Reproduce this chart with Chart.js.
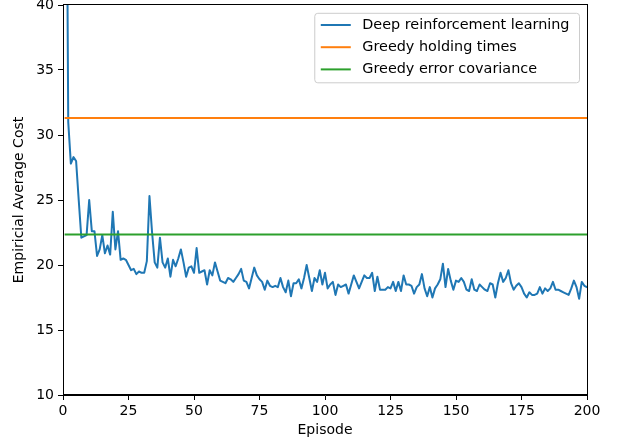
<!DOCTYPE html>
<html>
<head>
<meta charset="utf-8">
<script src="https://cdn.jsdelivr.net/npm/chart.js@4/dist/chart.umd.min.js"></script>
<style>
  html, body { margin: 0; padding: 0; background: #fff; }
</style>
</head>
<body>
<canvas id="chart" width="619" height="444"></canvas>
<script>
// values, episode 1..200
var drlCost = [
  65.0, 31.0, 27.8, 28.3, 28.0, 25.0, 22.1, 22.2, 22.3, 25.0,
  22.6, 22.6, 20.7, 21.2, 22.3, 20.9, 21.5, 20.8, 24.1, 21.2,
  22.6, 20.4, 20.5, 20.4, 20.0, 19.6, 19.7, 19.3, 19.5, 19.4,
  19.4, 20.3, 25.3, 22.5, 20.2, 19.8, 22.1, 20.2, 19.8, 20.5,
  19.1, 20.4, 19.9, 20.5, 21.2, 20.2, 19.1, 19.8, 19.9, 19.4,
  21.3, 19.4, 19.5, 19.6, 18.5, 19.6, 19.2, 20.2, 19.5, 18.8,
  18.7, 18.6, 19.0, 18.9, 18.7, 19.0, 19.3, 19.7, 18.8, 18.7,
  18.2, 19.0, 19.8, 19.2, 18.9, 18.7, 18.1, 18.8, 18.4, 18.3,
  18.4, 18.3, 19.0, 18.3, 17.9, 18.8, 17.6, 18.6, 18.6, 18.9,
  18.2, 19.0, 20.0, 19.0, 18.0, 19.0, 18.7, 19.6, 18.5, 19.4,
  18.2, 18.5, 18.7, 17.7, 18.5, 18.3, 18.4, 18.5, 17.8, 18.5,
  19.2, 18.7, 18.2, 18.7, 19.2, 19.0, 19.0, 19.4, 18.0, 19.1,
  18.1, 18.1, 18.1, 18.3, 18.2, 18.7, 18.0, 18.7, 18.0, 19.2,
  18.5, 18.5, 18.4, 17.8, 18.3, 18.5, 19.3, 18.2, 17.6, 18.3,
  17.5, 18.2, 18.5, 18.9, 20.1, 18.3, 19.7, 18.8, 18.1, 18.8,
  18.7, 19.0, 18.7, 18.1, 18.0, 18.9, 18.1, 18.0, 18.5, 18.3,
  18.1, 18.0, 18.6, 18.5, 17.5, 18.6, 19.4, 18.7, 19.0, 19.6,
  18.6, 18.1, 18.4, 18.6, 18.3, 17.8, 17.5, 17.9, 17.7, 17.7,
  17.8, 18.3, 17.8, 18.2, 18.0, 18.2, 18.7, 18.1, 18.1, 18.0,
  17.9, 17.8, 17.7, 18.2, 18.8, 18.3, 17.4, 18.7, 18.4, 18.3
];
var greedyHolding = 31.3;
var greedyCovariance = 22.35;
var firstEpisode = 1;
var lastEpisode = 200;
var seriesNames = ["Deep reinforcement learning", "Greedy holding times", "Greedy error covariance"];
var seriesColors = ["#1f77b4", "#ff7f0e", "#2ca02c"];

var font = { family: "DejaVu Sans", size: 14 };
var legendFontSize = 14.4;

var drlPoints = drlCost.map(function (v, i) {
  return { x: firstEpisode + i, y: v };
});
function flatLine(v) {
  return [{ x: firstEpisode, y: v }, { x: lastEpisode, y: v }];
}

// top/right spines like matplotlib
const framePlugin = {
  id: "frame",
  afterDatasetsDraw(chart) {
    const a = chart.chartArea;
    const c = chart.ctx;
    c.save();
    c.strokeStyle = "#000";
    c.lineWidth = 1;
    c.strokeRect(Math.round(a.left) + 0.5, Math.round(a.top) - 0.5,
      Math.round(a.right - a.left), Math.round(a.bottom - a.top));
    c.restore();
  },
};

// legend drawn inside the axes, upper right
const insideLegend = {
  id: "insideLegend",
  afterDraw(chart) {
    const a = chart.chartArea;
    const c = chart.ctx;
    c.save();
    c.font = legendFontSize + "px " + font.family;
    var maxW = 0;
    chart.data.datasets.forEach(function (ds) {
      maxW = Math.max(maxW, c.measureText(ds.label).width);
    });
    var w = 6 + 30 + 11.5 + maxW + 10;
    var h = 69.5;
    var x = a.right - 7.5 - w;
    var y = a.top + 8.3;
    c.beginPath();
    c.roundRect(x, y, w, h, 3);
    c.fillStyle = "rgba(255,255,255,0.8)";
    c.fill();
    c.strokeStyle = "#cccccc";
    c.lineWidth = 1;
    c.stroke();
    chart.data.datasets.forEach(function (ds, i) {
      var cy = y + 11.7 + i * 22.2;
      c.beginPath();
      c.moveTo(x + 6, cy);
      c.lineTo(x + 36, cy);
      c.strokeStyle = ds.borderColor;
      c.lineWidth = 2;
      c.stroke();
      c.fillStyle = "#000";
      c.textBaseline = "middle";
      c.fillText(ds.label, x + 47.5, cy);
    });
    c.restore();
  },
};

const ctx = document.getElementById("chart").getContext("2d");
var myChart = new Chart(ctx, {
  type: "line",
  data: {
    datasets: [
      { label: seriesNames[0], data: drlPoints, borderColor: seriesColors[0], order: 2 },
      { label: seriesNames[1], data: flatLine(greedyHolding), borderColor: seriesColors[1], order: 1 },
      { label: seriesNames[2], data: flatLine(greedyCovariance), borderColor: seriesColors[2], order: 0 },
    ],
  },
  options: {
    responsive: false,
    animation: false,
    events: [],
    layout: { padding: { left: 0, right: 32, top: 5, bottom: 0 } },
    elements: {
      line: { borderWidth: 2, tension: 0, fill: false, borderCapStyle: "square", borderJoinStyle: "round" },
      point: { radius: 0 },
    },
    plugins: { legend: { display: false }, tooltip: { enabled: false } },
    scales: {
      x: {
        type: "linear",
        min: 0,
        max: 200,
        ticks: { stepSize: 25, color: "#000", padding: 3, maxRotation: 0, font: font },
        grid: { drawOnChartArea: false, tickLength: 5, tickColor: "#000" },
        border: { color: "#000", width: 1 },
        title: { display: true, text: "Episode", color: "#000", font: font, padding: { top: 0, bottom: 5 } },
        afterFit: function (s) { s.height = 49; s.paddingLeft = 0; s.paddingRight = 0; },
      },
      y: {
        min: 10,
        max: 40,
        ticks: { stepSize: 5, color: "#000", padding: 4, font: font },
        grid: { drawOnChartArea: false, tickLength: 5, tickColor: "#000" },
        border: { color: "#000", width: 1 },
        title: { display: true, text: "Empiricial Average Cost", color: "#000", font: font, padding: { top: 11, bottom: 0 } },
        afterFit: function (s) { s.width = 63; s.paddingTop = 0; s.paddingBottom = 0; },
      },
    },
  },
  plugins: [framePlugin, insideLegend],
});
</script>
</body>
</html>
